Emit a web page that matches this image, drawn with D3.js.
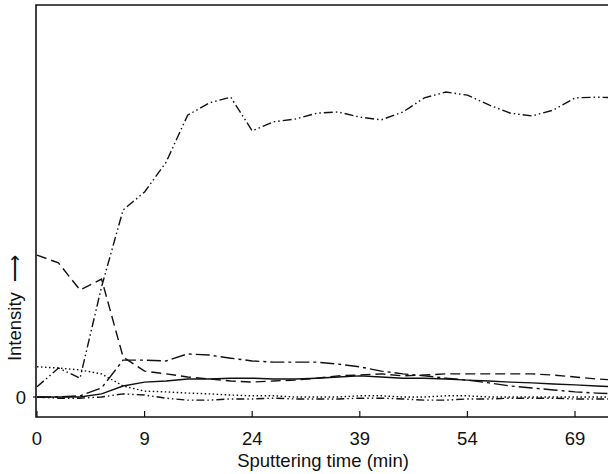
<!DOCTYPE html>
<html>
<head>
<meta charset="utf-8">
<script src="https://cdn.jsdelivr.net/npm/d3@7"></script>
<style>
  body { margin: 0; background: #fff; }
  svg { display: block; font-family: "Liberation Sans", Arial, sans-serif; }
</style>
</head>
<body>
<div id="chart"></div>
<script>
// sample index along the sputtering axis (equal spacing, 5 samples per tick)
var tickIdx = [0, 5, 10, 15, 20, 25];
var tickLabels = ['0', '9', '24', '39', '54', '69'];

// intensities (arbitrary units, 0 = baseline), one value per sample
var seriesA = [2.6, 7.4, 4.8, 28.1, 47.7, 52.3, 59.9, 71.9, 75.0, 76.5, 67.9, 70.2, 70.9, 72.4,
    72.7, 71.4, 70.7, 72.7, 76.3, 77.8, 77.0, 74.5, 72.4, 71.7, 73.2, 76.3, 76.5, 76.3];
var seriesB = [36.2, 34.2, 27.3, 30.1, 10.2, 6.6, 5.9, 5.1, 4.6, 4.1, 3.8, 4.1, 4.3, 4.8,
    5.4, 5.6, 5.9, 5.4, 5.6, 5.9, 5.9, 5.9, 5.9, 5.9, 5.6, 5.1, 4.6, 4.3];
var seriesC = [0, 0, 0.3, 2.3, 9.4, 9.4, 9.2, 11.0, 10.7, 9.9, 9.2, 8.9, 8.9, 8.9,
    8.4, 7.7, 6.6, 5.9, 5.4, 4.8, 4.3, 3.6, 2.8, 2.3, 1.8, 1.3, 1.0, 0.8];
var seriesD = [0, 0, 0, 0.8, 2.8, 3.8, 4.1, 4.6, 4.6, 4.8, 4.8, 4.6, 4.6, 4.8,
    5.1, 5.4, 5.1, 4.8, 4.8, 4.6, 4.3, 4.1, 3.8, 3.6, 3.3, 3.1, 2.8, 2.6];
var seriesE = [7.7, 7.4, 6.9, 5.9, 2.8, 1.5, 1.3, 1.0, 0.8, 0.5, 0.3, 0.3, 0, 0,
    0, 0.3, 0.3, 0, 0, 0.3, 0.3, 0, 0, 0, 0, 0, 0, 0];
var seriesF = [0, -0.3, -0.3, 0, 0.8, 0.5, -0.3, -0.8, -0.8, -0.5, -0.5, -0.3, -0.5, -0.5,
    -0.5, -0.3, -0.3, -0.5, -0.8, -0.8, -0.5, -0.5, -0.3, -0.3, -0.3, -0.5, -0.5, -0.5];

var lines = [
    { values: seriesA, dash: '9,3,1.5,3,1.5,3' },
    { values: seriesB, dash: '10,5' },
    { values: seriesC, dash: '14,4,3,4' },
    { values: seriesD, dash: null },
    { values: seriesE, dash: '1.5,2.5' },
    { values: seriesF, dash: '8,3,1.5,3,1.5,3' }
];

(function () {
    var width = 608, height = 474;
    var plotLeft = 36, plotTop = 5, axisY = 417, plotRight = 608;

    var svg = d3.select('#chart').append('svg')
        .attr('width', width)
        .attr('height', height);

    var x = d3.scaleLinear().domain([0, 25]).range([37, 575]);
    var y = d3.scaleLinear().domain([0, 100]).range([397, plotTop]);

    svg.append('defs').append('clipPath').attr('id', 'plot')
        .append('rect')
        .attr('x', plotLeft).attr('y', plotTop)
        .attr('width', plotRight - plotLeft).attr('height', axisY - plotTop);

    // frame: left, top and bottom lines
    svg.append('path')
        .attr('d', `M${plotRight},${plotTop}H${plotLeft}V${axisY}H${plotRight}`)
        .attr('fill', 'none')
        .attr('stroke', '#111')
        .attr('stroke-width', 1.6);

    // x ticks point inward, labels below
    var xAxis = svg.append('g').attr('transform', `translate(0,${axisY})`);
    xAxis.selectAll('line').data(tickIdx).join('line')
        .attr('x1', d => x(d)).attr('x2', d => x(d))
        .attr('y1', 0).attr('y2', -6)
        .attr('stroke', '#111').attr('stroke-width', 1.2);
    xAxis.selectAll('text').data(tickIdx).join('text')
        .attr('x', d => x(d)).attr('y', 28)
        .attr('text-anchor', 'middle')
        .attr('font-size', 18.5)
        .attr('fill', '#111')
        .text((d, i) => tickLabels[i]);

    // y zero mark
    svg.append('line')
        .attr('x1', plotLeft - 3).attr('x2', plotLeft)
        .attr('y1', y(0)).attr('y2', y(0))
        .attr('stroke', '#111').attr('stroke-width', 1.2);
    svg.append('text')
        .attr('x', 26).attr('y', y(0) + 6.5)
        .attr('text-anchor', 'end')
        .attr('font-size', 18.5)
        .attr('fill', '#111')
        .text('0');

    svg.append('text')
        .attr('x', 323).attr('y', 467)
        .attr('text-anchor', 'middle')
        .attr('font-size', 18.5)
        .attr('fill', '#111')
        .text('Sputtering time (min)');

    svg.append('text')
        .attr('transform', 'translate(21,308) rotate(-90)')
        .attr('text-anchor', 'middle')
        .attr('font-size', 18.5)
        .attr('fill', '#111')
        .text('Intensity \u00A0\u27F6');

    var line = d3.line()
        .x((d, i) => x(i))
        .y(d => y(d));

    svg.append('g').attr('clip-path', 'url(#plot)')
        .selectAll('path').data(lines).join('path')
        .attr('fill', 'none')
        .attr('stroke', '#111')
        .attr('stroke-width', 1.4)
        .attr('stroke-dasharray', d => d.dash)
        .attr('d', d => line(d.values));
})();
</script>
</body>
</html>
